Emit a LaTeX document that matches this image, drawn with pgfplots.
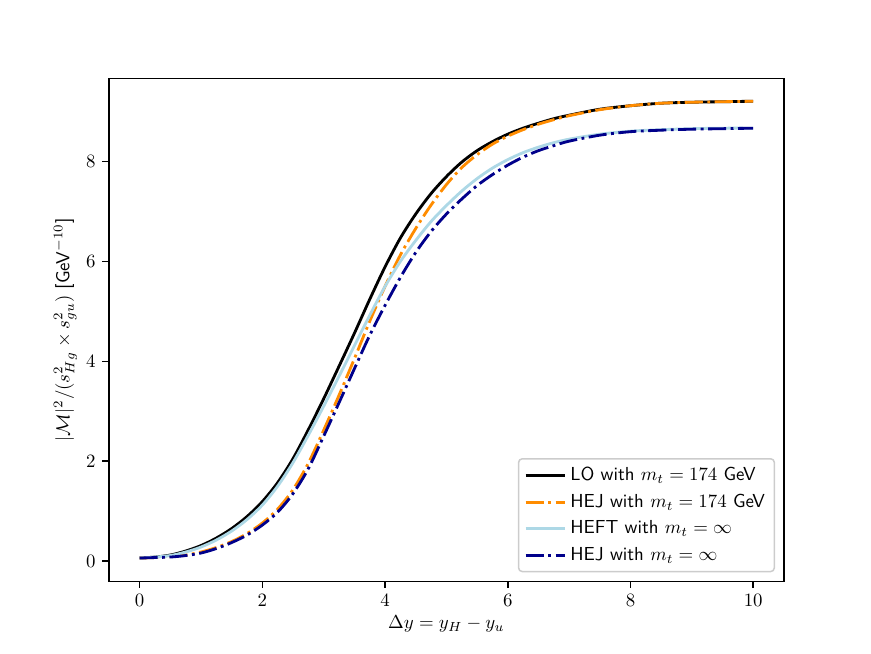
\documentclass[border=0pt]{standalone}
\usepackage{pgfplots}
\pgfplotsset{compat=1.18}
\usepackage{pgfplotstable}
\definecolor{dorange}{HTML}{FF8C00}
\definecolor{lblue}{HTML}{ADD8E6}
\definecolor{dblue}{HTML}{00008B}
\definecolor{lgray}{HTML}{CCCCCC}

\pgfplotstableread{
x y
0 0.06
0.25 0.08
0.5 0.12
0.75 0.2
1.0 0.31
1.25 0.46
1.5 0.65
1.75 0.89
2.0 1.19
2.25 1.57
2.5 2.05
2.75 2.63
3.0 3.25
3.25 3.9
3.5 4.56
3.75 5.24
4.0 5.89
4.25 6.47
4.5 6.95
4.75 7.36
5.0 7.7
5.25 7.99
5.5 8.22
5.75 8.4
6.0 8.55
6.25 8.67
6.5 8.77
6.75 8.86
7.0 8.93
7.5 9.05
8.0 9.12
8.5 9.17
9.0 9.19
9.5 9.2
10 9.21
}\lo

\pgfplotstableread{
x y
0 0.06
0.25 0.07
0.5 0.09
0.75 0.12
1.0 0.18
1.25 0.27
1.5 0.39
1.75 0.55
2.0 0.76
2.25 1.04
2.5 1.43
2.75 1.96
3.0 2.62
3.25 3.32
3.5 4.05
3.75 4.8
4.0 5.5
4.25 6.13
4.5 6.66
4.75 7.13
5.0 7.54
5.25 7.88
5.5 8.14
5.75 8.35
6.0 8.51
6.25 8.64
6.5 8.75
6.75 8.84
7.0 8.92
7.5 9.04
8.0 9.12
8.5 9.17
9.0 9.19
9.5 9.2
10 9.21
}\hejt

\pgfplotstableread{
x y
0 0.06
0.25 0.08
0.5 0.11
0.75 0.18
1.0 0.28
1.25 0.42
1.5 0.6
1.75 0.83
2.0 1.12
2.25 1.5
2.5 1.97
2.75 2.52
3.0 3.1
3.25 3.7
3.5 4.31
3.75 4.92
4.0 5.5
4.25 6.0
4.5 6.42
4.75 6.8
5.0 7.12
5.25 7.41
5.5 7.66
5.75 7.87
6.0 8.04
6.25 8.18
6.5 8.29
6.75 8.38
7.0 8.45
7.5 8.55
8.0 8.61
8.5 8.64
9.0 8.66
9.5 8.67
10 8.67
}\heft

\pgfplotstableread{
x y
0 0.06
0.25 0.07
0.5 0.08
0.75 0.11
1.0 0.16
1.25 0.25
1.5 0.37
1.75 0.52
2.0 0.72
2.25 0.98
2.5 1.35
2.75 1.85
3.0 2.5
3.25 3.17
3.5 3.85
3.75 4.52
4.0 5.12
4.25 5.68
4.5 6.18
4.75 6.6
5.0 6.95
5.25 7.25
5.5 7.52
5.75 7.74
6.0 7.93
6.25 8.09
6.5 8.22
6.75 8.32
7.0 8.41
7.5 8.53
8.0 8.6
8.5 8.63
9.0 8.65
9.5 8.66
10 8.67
}\hejinf

\begin{document}
\begin{tikzpicture}
\path[use as bounding box] (0,0) rectangle (6.4in,4.8in);
\begin{axis}[
  at={(0.8in,0.528in)}, anchor=south west,
  scale only axis, width=4.96in, height=3.696in,
  xmin=-0.5, xmax=10.5, ymin=-0.4075, ymax=9.6675,
  xtick={0,2,4,6,8,10}, ytick={0,2,4,6,8},
  minor tick num=0,
  tick align=outside, tick pos=left,
  major tick length=3.5pt,
  axis line style={line width=0.8pt},
  every tick/.style={black, line width=0.8pt},
  xlabel={$\Delta y = y_H - y_u$},
  ylabel={$|\mathcal{M}|^2/(s_{Hg}^2\times s_{gu}^2)$ \textsf{[GeV$^{-10}$]}},
  xlabel style={yshift=2pt},
  ylabel style={yshift=-2pt},
  legend cell align=left,
  legend style={at={(0.987,0.018)}, anchor=south east,
    draw=lgray, rounded corners=2pt, fill=white, fill opacity=0.8, text opacity=1,
    font=\sffamily, row sep=1.6pt, inner xsep=3pt, inner ysep=2.5pt,
    line width=0.8pt},
  legend image code/.code={\draw[#1] (0pt,0pt) -- (21pt,0pt);},
]
\addplot[black, line width=1.5pt, smooth] table[x=x,y=y] {\lo};
\addlegendentry{LO with $m_t = 174$ GeV}
\addplot[dorange, line width=1.5pt, smooth, dash pattern=on 9.6pt off 2.4pt on 1.5pt off 2.4pt] table[x=x,y=y] {\hejt};
\addlegendentry{HEJ with $m_t = 174$ GeV}
\addplot[lblue, line width=1.5pt, smooth] table[x=x,y=y] {\heft};
\addlegendentry{HEFT with $m_t = \infty$}
\addplot[dblue, line width=1.5pt, smooth, dash pattern=on 9.6pt off 2.4pt on 1.5pt off 2.4pt] table[x=x,y=y] {\hejinf};
\addlegendentry{HEJ with $m_t = \infty$}
\node[anchor=south west, inner sep=0pt, yshift=3pt] at (rel axis cs:0,1) {$\times10^{-22}$};
\end{axis}
\end{tikzpicture}
\end{document}
